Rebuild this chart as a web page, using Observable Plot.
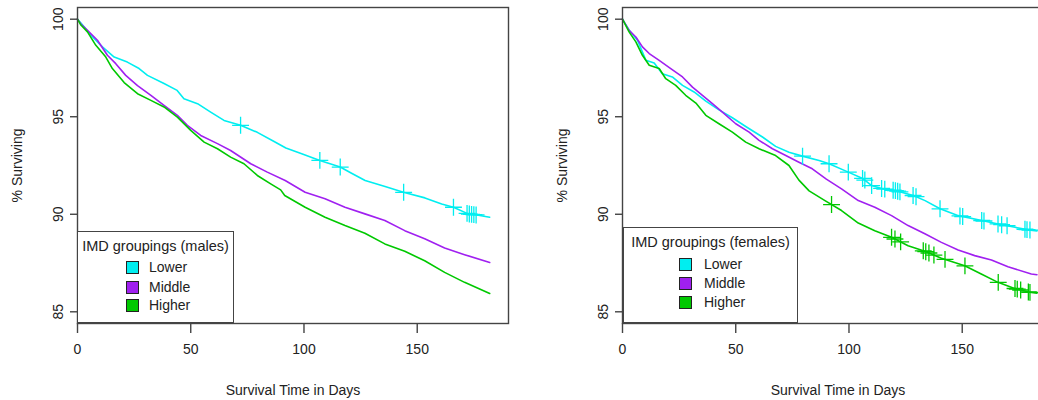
<!DOCTYPE html>
<html>
<head>
<meta charset="utf-8">
<script src="https://cdn.jsdelivr.net/npm/d3@7"></script>
<script src="https://cdn.jsdelivr.net/npm/@observablehq/plot@0.6"></script>
<style>
  html, body { margin: 0; padding: 0; background: #fff; }
  #wrap { position: relative; width: 1038px; height: 400px; overflow: hidden; font-family: "Liberation Sans", Arial, sans-serif; }
  .panel { position: absolute; top: 0; }
  .legend { position: absolute; box-sizing: border-box; border: 1.4px solid #444; background: #fff; color: #222; font-size: 14px; }
  .legend .ttl { position: absolute; left: 0; right: 0; text-align: center; white-space: nowrap; font-size: 14.5px; }
  .legend .item { position: absolute; white-space: nowrap; line-height: 16px; }
  .legend .sw { position: absolute; width: 11px; height: 11px; border: 1px solid #222; }
</style>
</head>
<body>
<div id="wrap"></div>
<script>
// ---- data ----
const groups = ["Lower", "Middle", "Higher"];
const groupColors = ["#00EEF0", "#A020F0", "#00C800"];
const xTicks = [0, 50, 100, 150];
const yTicks = [85, 90, 95, 100];

const maleLower = [[0,100],[1.5,99.8],[3,99.6],[5.9,99.18],[11,98.58],[16.2,98.06],[22,97.8],[27.2,97.47],[30.9,97.12],[38.2,96.7],[44,96.35],[47,95.92],[53,95.67],[58.8,95.24],[64.7,94.81],[72,94.56],[79.4,94.2],[86.8,93.73],[92,93.4],[99,93.1],[107,92.76],[116,92.42],[121,92.1],[127,91.73],[135.8,91.42],[143.9,91.13],[153.4,90.84],[160.8,90.53],[166,90.36],[172.5,90.02],[177,89.95],[182,89.85]];
const maleMiddle = [[0,100],[1.5,99.75],[4.4,99.43],[8.8,98.92],[13.2,98.15],[16.9,97.72],[21.3,97.12],[26.5,96.6],[32.4,96.1],[38.2,95.58],[44.1,95.07],[48.5,94.56],[54.4,94.04],[61.8,93.62],[67.6,93.27],[76.5,92.59],[83.8,92.16],[91.7,91.73],[100.5,91.13],[109.3,90.79],[118.1,90.36],[126.9,90.02],[135.7,89.68],[144.5,89.16],[153.3,88.74],[162.1,88.27],[170.9,87.93],[182,87.53]];
const maleHigher = [[0,100],[1.5,99.7],[4.4,99.35],[8.1,98.66],[12.5,98.06],[15.4,97.47],[20.6,96.75],[26.5,96.18],[32.4,95.84],[38.2,95.5],[44.1,94.98],[50,94.3],[55.9,93.7],[61.8,93.36],[67.6,92.93],[73.5,92.59],[79.4,91.99],[85.3,91.56],[89.7,91.25],[91.5,90.96],[100.5,90.36],[109.3,89.85],[118.1,89.42],[126.9,89.03],[135.7,88.48],[144.5,88.1],[153.3,87.62],[162.1,87.02],[170.9,86.51],[182,85.94]];

const femaleLower = [[0,100],[1,99.8],[2.9,99.45],[6.6,98.92],[10.3,97.9],[14,97.75],[17.6,97.2],[22,97.04],[26.5,96.61],[31.6,96.27],[36.8,95.8],[42.6,95.35],[48.5,94.95],[54.4,94.5],[61.8,93.96],[67.6,93.48],[73.5,93.18],[79.4,92.98],[86.8,92.76],[91.2,92.59],[99.7,92.16],[106.3,91.82],[110,91.47],[115.1,91.3],[120.3,91.22],[128.4,90.96],[133.6,90.7],[140.2,90.28],[148.3,89.93],[158.6,89.68],[165.9,89.5],[173.3,89.33],[179.2,89.2],[183,89.15]];
const femaleMiddle = [[0,100],[2.9,99.43],[5.9,99.09],[8.8,98.58],[11.8,98.24],[16.2,97.89],[21.3,97.47],[26.5,97.04],[30.9,96.52],[35.3,96.1],[39.7,95.67],[44.1,95.24],[50,94.64],[55.9,94.21],[60.3,93.79],[66.2,93.36],[72.1,93.01],[77.9,92.67],[83.8,92.33],[90,91.8],[96.7,91.3],[104.1,90.7],[111.4,90.36],[118.8,89.93],[126.1,89.42],[133.5,89.0],[140.8,88.56],[148.2,88.17],[155.5,87.88],[162.9,87.66],[170.2,87.31],[180.5,86.94],[183,86.9]];
const femaleHigher = [[0,100],[2.9,99.35],[5.9,98.84],[8.8,98.15],[11.8,97.64],[16.2,97.47],[19.1,96.95],[23.5,96.61],[27.9,96.1],[32.4,95.7],[36.8,95.07],[42.6,94.64],[48.5,94.21],[54.4,93.7],[60.3,93.36],[67.6,93.01],[73.5,92.5],[77.9,91.75],[82.4,91.2],[89.4,90.7],[96.7,90.19],[104.1,89.55],[111.4,89.16],[118.8,88.82],[126.1,88.39],[133.5,88.1],[140.8,87.75],[151.1,87.36],[158.4,86.94],[165.8,86.51],[173.1,86.2],[179.7,86.0],[183,85.95]];

const maleLowerCensor = [72, 107, 116, 144, 166, 172, 173, 174, 175, 176];
const femaleLowerCensor = [79.5, 91.2, 99.7, 106, 107, 110, 114.4, 115.8, 119.5, 120.5, 121.5, 122.5, 128.3, 129.6, 140.2, 149, 150.2, 158.6, 159.6, 165.8, 167.4, 169.8, 177.7, 178.6, 179.9];
const femaleHigherCensor = [92.3, 118.8, 120.3, 122.8, 132.8, 133.9, 135.3, 137.5, 142.4, 151.2, 165.9, 173.3, 174.3, 175.8, 179.2, 179.9];

const panels = [
  { legendTitle: "IMD groupings (males)", series: [maleLower, maleMiddle, maleHigher],
    censors: [[0, maleLowerCensor]], left: 0,
    legend: {left: 77, top: 231, width: 157, height: 92, sw: 48, tx: 71, rows: [36, 56, 74], ttl: 15} },
  { legendTitle: "IMD groupings (females)", series: [femaleLower, femaleMiddle, femaleHigher],
    censors: [[0, femaleLowerCensor], [2, femaleHigherCensor]], left: 545,
    legend: {left: 623, top: 227, width: 175, height: 96, sw: 55, tx: 80, rows: [37, 56, 75], ttl: 15} }
];

// value of the drawn (linear) path at time t, so each censor "+" sits on its line
function valueAt(series, t) {
  for (let i = 1; i < series.length; i++) {
    const [d0, p0] = series[i - 1], [d1, p1] = series[i];
    if (t <= d1) return p0 + (p1 - p0) * (t - d0) / (d1 - d0);
  }
  return series[series.length - 1][1];
}

const wrap = document.getElementById("wrap");
const ink = "#222";

for (const pn of panels) {
  const lines = [];
  pn.series.forEach((s, i) => s.forEach(([day, pct]) => lines.push({group: groups[i], day, pct})));
  const cens = [];
  pn.censors.forEach(([gi, days]) => days.forEach(day => cens.push({group: groups[gi], day, pct: valueAt(pn.series[gi], day)})));

  const chart = Plot.plot({
    width: 545, height: 400,
    marginLeft: 77, marginRight: 37, marginTop: 7, marginBottom: 77,
    x: {domain: [0, 190.3]},
    y: {domain: [84.4, 100.6]},
    color: {domain: groups, range: groupColors},
    style: {fontFamily: "'Liberation Sans', Arial, sans-serif", fontSize: "14px", color: ink, background: "transparent", overflow: "visible"},
    marks: [
      Plot.line(lines, {x: "day", y: "pct", z: "group", stroke: "group", curve: "linear", strokeWidth: 1.6}),
      Plot.dot(cens, {x: "day", y: "pct", stroke: "group", symbol: "plus", r: 5.5, strokeWidth: 1.3}),
      Plot.frame({stroke: "#444", strokeWidth: 1.4}),
      Plot.axisX({ticks: xTicks, tickSize: 10, tickPadding: 11, label: null, stroke: "#444", strokeWidth: 1.4, fontSize: 14}),
      Plot.axisY({ticks: yTicks, tickSize: 7, tickPadding: 8, tickRotate: -90, label: null, stroke: "#444", strokeWidth: 1.4, fontSize: 14}),
      Plot.text(["Survival Time in Days"], {frameAnchor: "bottom", dy: 67, lineAnchor: "middle", fontSize: 14, fill: ink}),
      Plot.text(["% Surviving"], {frameAnchor: "left", dx: -60, rotate: -90, lineAnchor: "middle", textAnchor: "middle", fontSize: 14, fill: ink})
    ]
  });
  chart.classList.add("panel");
  chart.style.left = pn.left + "px";
  wrap.appendChild(chart);

  const L = pn.legend;
  const lg = document.createElement("div");
  lg.className = "legend";
  Object.assign(lg.style, {left: L.left + "px", top: L.top + "px", width: L.width + "px", height: L.height + "px"});
  const ttl = document.createElement("div");
  ttl.className = "ttl"; ttl.style.top = (L.ttl - 9) + "px"; ttl.textContent = pn.legendTitle;
  lg.appendChild(ttl);
  groups.forEach((g, i) => {
    const sw = document.createElement("div");
    sw.className = "sw";
    Object.assign(sw.style, {left: L.sw + "px", top: (L.rows[i] - 7) + "px", background: groupColors[i]});
    lg.appendChild(sw);
    const it = document.createElement("div");
    it.className = "item";
    Object.assign(it.style, {left: L.tx + "px", top: (L.rows[i] - 9) + "px"});
    it.textContent = g;
    lg.appendChild(it);
  });
  wrap.appendChild(lg);
}
</script>
</body>
</html>
